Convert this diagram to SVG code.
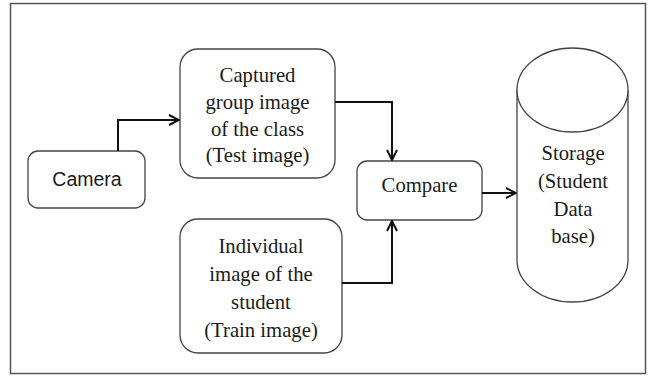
<svg xmlns="http://www.w3.org/2000/svg" width="648" height="376" viewBox="0 0 648 376">
<defs>
<style>
.box{fill:#fff;stroke:#444;stroke-width:1.3}
.t{font-family:'Liberation Serif','Times New Roman',serif;font-size:20.7px;fill:#1a1a1a;text-anchor:middle}
.s{font-family:'Liberation Sans',Arial,sans-serif;font-size:19.5px;fill:#1a1a1a;text-anchor:middle}
.c{fill:none;stroke:#111;stroke-width:2}
</style>
<marker id="a" viewBox="0 0 12 12" refX="11" refY="6" markerWidth="12" markerHeight="12" markerUnits="userSpaceOnUse" orient="auto">
<path d="M1,1 L11,6 L1,11" fill="none" stroke="#111" stroke-width="2"/>
</marker>
</defs>
<rect x="0" y="0" width="648" height="376" fill="#fff"/>
<rect x="10.5" y="3.5" width="635" height="370" fill="none" stroke="#555" stroke-width="1.5"/>
<g id="camera">
<rect class="box" x="28" y="151" width="117" height="57" rx="10"/>
<text class="s" x="87" y="186">Camera</text>
</g>
<g id="captured">
<rect class="box" x="180" y="49" width="155" height="129" rx="18"/>
<text class="t" x="257.5" y="82">Captured</text>
<text class="t" x="257.5" y="109">group image</text>
<text class="t" x="257.5" y="136">of the class</text>
<text class="t" x="257.5" y="162">(Test image)</text>
</g>
<g id="individual">
<rect class="box" x="180" y="219" width="162" height="134" rx="18"/>
<text class="t" x="261" y="253">Individual</text>
<text class="t" x="261" y="281">image of the</text>
<text class="t" x="261" y="309">student</text>
<text class="t" x="261" y="337">(Train image)</text>
</g>
<g id="compare">
<rect class="box" x="357" y="161" width="125" height="59" rx="10"/>
<text class="t" x="419.5" y="192">Compare</text>
</g>
<g id="storage">
<path class="box" d="M517,90 L517,260 A55.5,42 0 0 0 628,260 L628,90"/>
<ellipse class="box" cx="572.5" cy="90" rx="55.5" ry="42"/>
<text class="t" x="573" y="160">Storage</text>
<text class="t" x="573" y="188">(Student</text>
<text class="t" x="573" y="216">Data</text>
<text class="t" x="573" y="243">base)</text>
</g>
<g id="connectors">
<path class="c" d="M118,151 L118,120 L179,120" marker-end="url(#a)"/>
<path class="c" d="M335,102 L392,102 L392,160" marker-end="url(#a)"/>
<path class="c" d="M342,283 L392,283 L392,221" marker-end="url(#a)"/>
<path class="c" d="M482,193 L516,193" marker-end="url(#a)"/>
</g>
</svg>
